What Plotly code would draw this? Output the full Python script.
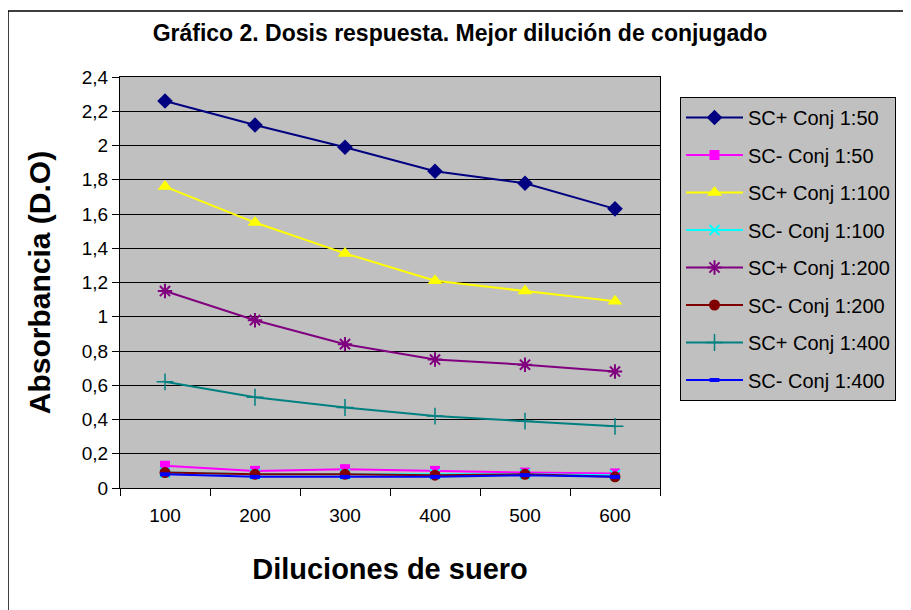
import plotly.graph_objects as go

diluciones = [100, 200, 300, 400, 500, 600]
sc_pos_50 = [2.26, 2.12, 1.99, 1.85, 1.78, 1.63]
sc_neg_50 = [0.13, 0.10, 0.11, 0.10, 0.09, 0.085]
sc_pos_100 = [1.76, 1.55, 1.37, 1.21, 1.15, 1.09]
sc_neg_100 = [0.09, 0.08, 0.08, 0.08, 0.08, 0.075]
sc_pos_200 = [1.15, 0.98, 0.84, 0.75, 0.72, 0.68]
sc_neg_200 = [0.09, 0.08, 0.08, 0.075, 0.08, 0.065]
sc_pos_400 = [0.62, 0.53, 0.47, 0.42, 0.39, 0.36]
sc_neg_400 = [0.08, 0.065, 0.065, 0.065, 0.075, 0.065]
y_ticks = [0, 0.2, 0.4, 0.6, 0.8, 1, 1.2, 1.4, 1.6, 1.8, 2, 2.2, 2.4]
y_tick_text = ["0", "0,2", "0,4", "0,6", "0,8", "1", "1,2", "1,4", "1,6", "1,8", "2", "2,2", "2,4"]

series = [
    ("SC+ Conj 1:50", sc_pos_50, "#000080", "diamond", 12, 0),
    ("SC- Conj 1:50", sc_neg_50, "#FF00FF", "square", 10, 0),
    ("SC+ Conj 1:100", sc_pos_100, "#FFFF00", "triangle-up", 13, 0),
    ("SC- Conj 1:100", sc_neg_100, "#00FFFF", "x-thin-open", 10, 2),
    ("SC+ Conj 1:200", sc_pos_200, "#800080", "asterisk-open", 12, 2),
    ("SC- Conj 1:200", sc_neg_200, "#800000", "circle", 11, 0),
    ("SC+ Conj 1:400", sc_pos_400, "#008080", "cross-thin-open", 12, 1.5),
    ("SC- Conj 1:400", sc_neg_400, "#0000FF", "line-ew-open", 7, 4),
]

FONT = "Arial, Liberation Sans, sans-serif"
OFF = 8  # page body margin
W, H = 903, 602
L, T = 120 - OFF, 77 - OFF
pw, ph = 540, 411
R = W - L - pw
B = H - T - ph

fig = go.Figure()
for i, (name, vals, color, sym, size, lw) in enumerate(series):
    marker = dict(symbol=sym, size=size, color=color)
    if lw:
        marker["line"] = dict(color=color, width=lw)
    fig.add_trace(go.Scatter(
        x=diluciones, y=vals, name=name, mode="lines+markers",
        line=dict(color=color, width=2), marker=marker,
        legendgroup="g%d" % i,
    ))

def px_x(p):
    return (p - OFF - L) / pw
def px_y(p):
    return (T + ph - (p - OFF)) / ph

fig.add_shape(type="rect", xref="paper", yref="paper",
              x0=px_x(8), x1=px_x(960), y0=px_y(660), y1=px_y(11),
              line=dict(color="black", width=1.5), fillcolor="rgba(0,0,0,0)", layer="below")

fig.update_layout(
    width=W, height=H,
    margin=dict(l=L, r=R, t=T, b=B),
    paper_bgcolor="white",
    plot_bgcolor="#C0C0C0",
    font=dict(family=FONT, color="black", size=19),
    title=dict(text="<b>Gráfico 2. Dosis respuesta. Mejor dilución de conjugado</b>",
               x=(460 - OFF) / W, xanchor="center", y=1 - (33 - OFF) / H, yanchor="middle",
               font=dict(size=23, family=FONT)),
    xaxis=dict(
        range=[50, 650], tickvals=diluciones, ticktext=[str(d) for d in diluciones],
        ticks="", showgrid=False, zeroline=False,
        showline=True, linecolor="black", linewidth=1, mirror=True,
        tickfont=dict(size=19), ticklabelstandoff=10,
        minor=dict(tickvals=[50, 150, 250, 350, 450, 550, 650], ticks="outside",
                   ticklen=7, tickcolor="black", showgrid=False),
        title=dict(text="<b>Diluciones de suero</b>", font=dict(size=29), standoff=33),
    ),
    yaxis=dict(
        range=[0, 2.4], tickvals=y_ticks, ticktext=y_tick_text,
        ticks="outside", ticklen=7, tickcolor="black",
        showgrid=True, gridcolor="black", gridwidth=1, zeroline=False,
        showline=True, linecolor="black", linewidth=1, mirror=True,
        tickfont=dict(size=19),
        title=dict(text="<b>Absorbancia (D.O)</b>", font=dict(size=30), standoff=22),
    ),
    legend=dict(
        xref="container", yref="container",
        x=(680 - OFF) / W, y=1 - (97 - OFF) / H, xanchor="left", yanchor="top",
        bgcolor="#C0C0C0", bordercolor="black", borderwidth=1,
        font=dict(size=20, family=FONT), tracegroupgap=8.5,
        traceorder="grouped", itemwidth=57, maxheight=560,
    ),
)

fig.write_html("out.html")
